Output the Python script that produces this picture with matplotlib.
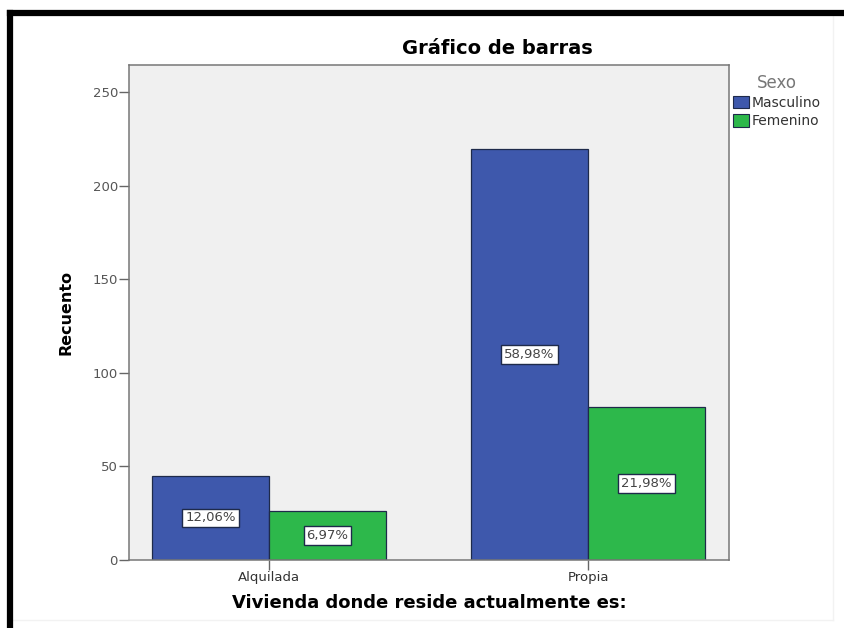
import matplotlib.pyplot as plt
from matplotlib.patches import Patch
from matplotlib.lines import Line2D

plt.rcParams["font.family"] = ["DejaVu Sans"]

categories = ["Alquilada", "Propia"]
masculino = [45, 220]
femenino = [26, 82]
series_names = ["Masculino", "Femenino"]
colors = ["#3e58ac", "#2db84b"]
yticks = [0, 50, 100, 150, 200, 250]

total = sum(masculino) + sum(femenino)

fig = plt.figure(figsize=(8.45, 6.28), dpi=100)
ax = fig.add_axes([129 / 845, 68 / 628, 600 / 845, 495 / 628])
ax.set_facecolor("#f0f0f0")

w = 0.367
xs = list(range(len(categories)))
for values, offset, col in [(masculino, -w / 2, colors[0]), (femenino, w / 2, colors[1])]:
    pos = [x + offset for x in xs]
    ax.bar(pos, values, width=w, color=col, edgecolor="#1e2a4a", linewidth=0.9, zorder=2)
    for p, v in zip(pos, values):
        label = f"{100 * v / total:.2f}%".replace(".", ",")
        ax.text(p, v / 2, label, ha="center", va="center", fontsize=9.5, color="#444444",
                zorder=3,
                bbox=dict(boxstyle="square,pad=0.22", facecolor="white",
                          edgecolor="#1e2a4a", linewidth=1.0))

ax.set_xlim(-0.439, 1.442)
ax.set_ylim(0, 264.7)
ax.set_xticks(xs)
ax.set_xticklabels(categories, fontsize=9.5, color="#333333")
ax.set_yticks(yticks)
ax.set_yticklabels([str(t) for t in yticks], fontsize=9.5, color="#555555")
ax.tick_params(axis="both", length=7, width=1.0, color="#666666", pad=1)
for s in ax.spines.values():
    s.set_color("#777777")
    s.set_linewidth(1.1)

ax.set_ylabel("Recuento", fontsize=11.5, fontweight="bold", labelpad=14)
ax.set_xlabel("Vivienda donde reside actualmente es:", fontsize=13, fontweight="bold",
              labelpad=7)
fig.text(497 / 845, 1 - 48 / 628, "Gráfico de barras", ha="center", va="center",
         fontsize=14, fontweight="bold")

handles = [Patch(facecolor=c, edgecolor="#1e2a4a", linewidth=0.8) for c in colors]
leg = fig.legend(handles, series_names, loc="upper left",
                 bbox_to_anchor=(723 / 845, 1 - 64 / 628), frameon=False,
                 fontsize=10, title="Sexo", handlelength=1.2, handleheight=1.0,
                 handletextpad=0.15, labelspacing=0.3, borderpad=0.2)
leg.get_title().set_color("#777777")
leg.get_title().set_fontsize(12)
for t in leg.get_texts():
    t.set_color("#333333")

# outer frame of the screenshot
fig.add_artist(Line2D([833 / 845, 833 / 845], [8 / 628, 1 - 16 / 628], color="#f2f2f2",
                      linewidth=1, transform=fig.transFigure))
fig.add_artist(Line2D([12 / 845, 833 / 845], [8 / 628, 8 / 628], color="#f2f2f2",
                      linewidth=1, transform=fig.transFigure))
fig.add_artist(Line2D([10 / 845, 10 / 845], [0, 1 - 13 / 628], color="black",
                      linewidth=4.5, transform=fig.transFigure))
fig.add_artist(Line2D([10 / 845, 1], [1 - 13 / 628, 1 - 13 / 628], color="black",
                      linewidth=4.5, transform=fig.transFigure, solid_capstyle="projecting"))

fig.savefig("out.png", dpi=100)
